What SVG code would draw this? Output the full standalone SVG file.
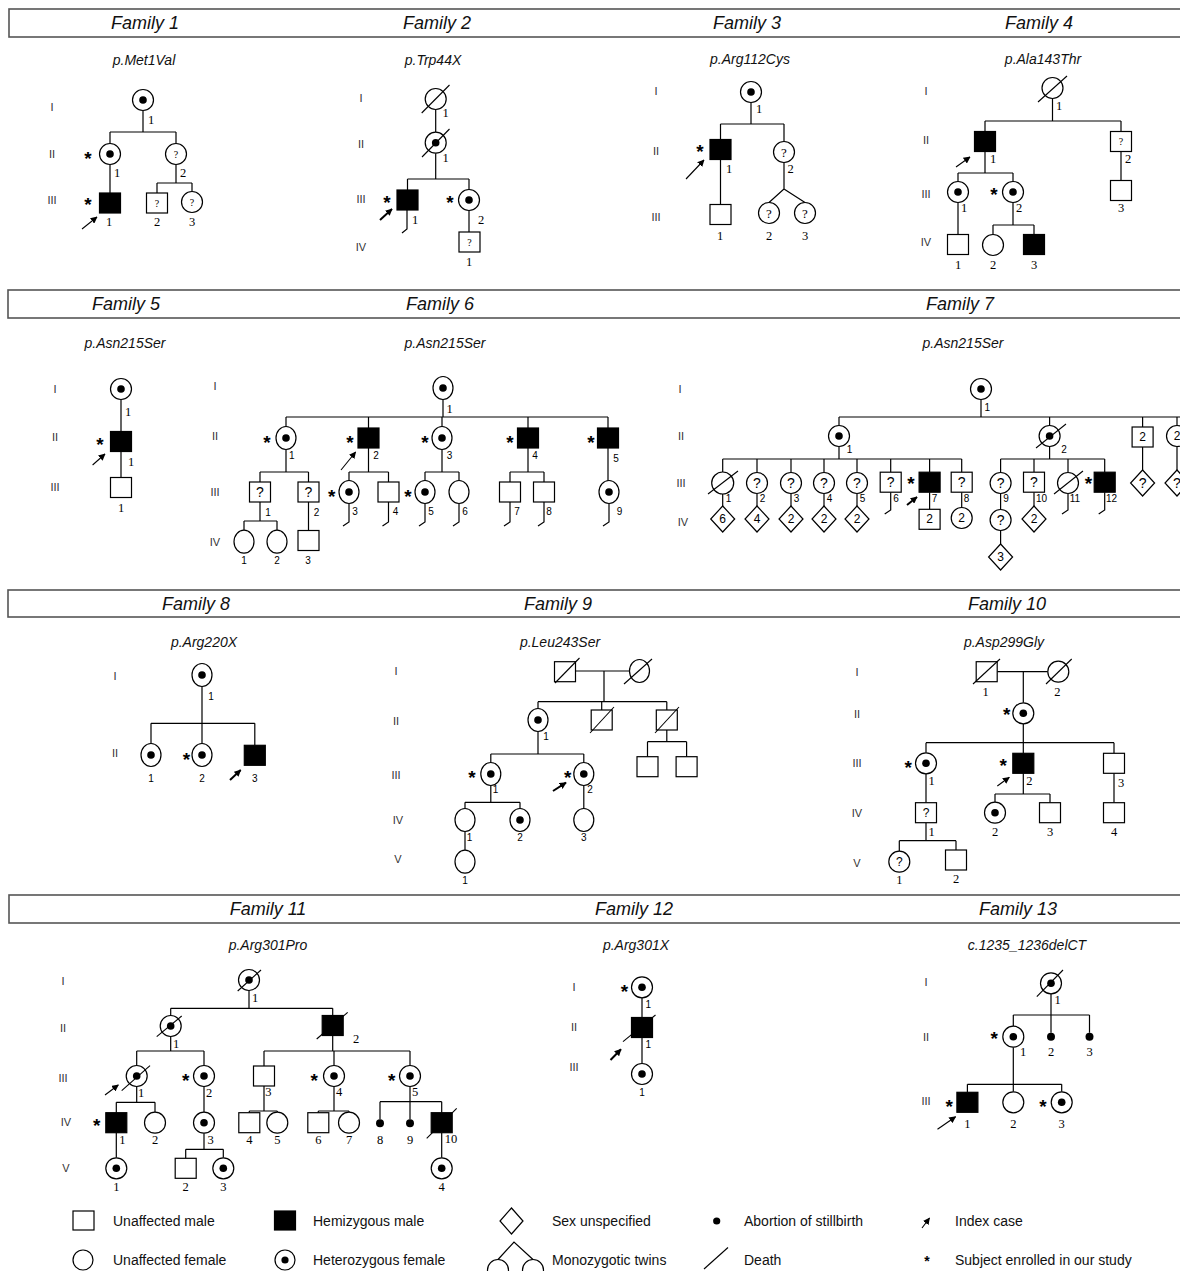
<svg xmlns="http://www.w3.org/2000/svg" width="1180" height="1271" viewBox="0 0 1180 1271">
<style>
.hb{fill:#fff;stroke:#555;stroke-width:1.6}
.tt{font-family:"Liberation Sans",Arial,sans-serif;font-style:italic;font-size:18px;text-anchor:middle;dominant-baseline:central;fill:#111}
.mu{font-family:"Liberation Sans",Arial,sans-serif;font-style:italic;font-size:14px;text-anchor:middle;dominant-baseline:central;fill:#111}
.gn{font-family:"Liberation Sans",Arial,sans-serif;font-size:11px;text-anchor:middle;dominant-baseline:central;fill:#333}
.nr{font-family:"Liberation Serif","Times New Roman",serif;font-size:12.5px;text-anchor:middle;dominant-baseline:central;fill:#000}
.ns{font-family:"Liberation Sans",Arial,sans-serif;font-size:10px;text-anchor:middle;dominant-baseline:central;fill:#000}
.q{font-family:"Liberation Serif","Times New Roman",serif;font-size:10px;text-anchor:middle;dominant-baseline:central}
.qb{font-family:"Liberation Serif","Times New Roman",serif;font-size:13px;text-anchor:middle;dominant-baseline:central}
.qs{font-family:"Liberation Sans",Arial,sans-serif;font-size:14px;text-anchor:middle;dominant-baseline:central}
.qm{font-family:"Liberation Sans",Arial,sans-serif;font-size:12px;text-anchor:middle;dominant-baseline:central}
.ast{font-family:"Liberation Sans",Arial,sans-serif;font-weight:bold;font-size:19px;text-anchor:middle}
.lg{font-family:"Liberation Sans",Arial,sans-serif;font-size:14px;dominant-baseline:central;fill:#111}
.s{fill:#fff;stroke:#000;stroke-width:1.2}
.f{fill:#000;stroke:#000;stroke-width:1.2}
.d{fill:#000}
.ln{fill:none;stroke:#000;stroke-width:1.2}
.dx{stroke:#000;stroke-width:1.1}
.ar{stroke:#000;stroke-width:1.1}
.ar2{stroke:#000;stroke-width:2}
</style>
<defs>
<marker id="ah" viewBox="0 0 10 10" refX="9" refY="5" markerWidth="7" markerHeight="7" markerUnits="userSpaceOnUse" orient="auto"><path d="M0,0 L10,5 L0,10 z" fill="#000"/></marker>
<circle id="fc" r="10.5" class="s"/>
<g id="het"><circle r="10.5" class="s"/><circle r="3.8" class="d"/></g>
<ellipse id="fo" rx="10" ry="11.5" class="s"/>
<g id="heto"><ellipse rx="10" ry="11.5" class="s"/><circle r="3.8" class="d"/></g>
<rect id="ms" x="-10.5" y="-10" width="21" height="20" class="s"/>
<rect id="mf" x="-10.5" y="-10" width="21" height="20" class="f"/>
<polygon id="dm" points="0,-13 12,0 0,13 -12,0" class="s"/>
<circle id="ab" r="4" class="d"/>
</defs>

<g id="headers">
<rect class="hb" x="9" y="9" width="1185" height="28"/>
<rect class="hb" x="8" y="290" width="1185" height="28"/>
<rect class="hb" x="8" y="590" width="1185" height="27"/>
<rect class="hb" x="9" y="895" width="1185" height="28"/>
<text class="tt" x="145" y="23">Family 1</text>
<text class="tt" x="437" y="23">Family 2</text>
<text class="tt" x="747" y="23">Family 3</text>
<text class="tt" x="1039" y="23">Family 4</text>
<text class="tt" x="126" y="304">Family 5</text>
<text class="tt" x="440" y="304">Family 6</text>
<text class="tt" x="960" y="304">Family 7</text>
<text class="tt" x="196" y="604">Family 8</text>
<text class="tt" x="558" y="604">Family 9</text>
<text class="tt" x="1007" y="604">Family 10</text>
<text class="tt" x="268" y="909">Family 11</text>
<text class="tt" x="634" y="909">Family 12</text>
<text class="tt" x="1018" y="909">Family 13</text>
<text class="mu" x="144" y="60">p.Met1Val</text>
<text class="mu" x="433" y="60">p.Trp44X</text>
<text class="mu" x="750" y="59">p.Arg112Cys</text>
<text class="mu" x="1043" y="59">p.Ala143Thr</text>
<text class="mu" x="125" y="343">p.Asn215Ser</text>
<text class="mu" x="445" y="343">p.Asn215Ser</text>
<text class="mu" x="963" y="343">p.Asn215Ser</text>
<text class="mu" x="204" y="642">p.Arg220X</text>
<text class="mu" x="560" y="642">p.Leu243Ser</text>
<text class="mu" x="1004" y="642">p.Asp299Gly</text>
<text class="mu" x="268" y="945">p.Arg301Pro</text>
<text class="mu" x="636" y="945">p.Arg301X</text>
<text class="mu" x="1027" y="945">c.1235_1236delCT</text>
</g>

<g id="generations">
<text class="gn" x="52" y="107">I</text><text class="gn" x="52" y="154">II</text><text class="gn" x="52" y="200">III</text>
<text class="gn" x="361" y="98">I</text><text class="gn" x="361" y="144">II</text><text class="gn" x="361" y="199">III</text><text class="gn" x="361" y="247">IV</text>
<text class="gn" x="656" y="91">I</text><text class="gn" x="656" y="151">II</text><text class="gn" x="656" y="217">III</text>
<text class="gn" x="926" y="91">I</text><text class="gn" x="926" y="140">II</text><text class="gn" x="926" y="194">III</text><text class="gn" x="926" y="242">IV</text>
<text class="gn" x="55" y="389">I</text><text class="gn" x="55" y="437">II</text><text class="gn" x="55" y="487">III</text>
<text class="gn" x="215" y="386">I</text><text class="gn" x="215" y="436">II</text><text class="gn" x="215" y="492">III</text><text class="gn" x="215" y="542">IV</text>
<text class="gn" x="680" y="389">I</text><text class="gn" x="681" y="436">II</text><text class="gn" x="681" y="483">III</text><text class="gn" x="683" y="522">IV</text>
<text class="gn" x="115" y="676">I</text><text class="gn" x="115" y="753">II</text>
<text class="gn" x="396" y="671">I</text><text class="gn" x="396" y="721">II</text><text class="gn" x="396" y="775">III</text><text class="gn" x="398" y="820">IV</text><text class="gn" x="398" y="859">V</text>
<text class="gn" x="857" y="672">I</text><text class="gn" x="857" y="714">II</text><text class="gn" x="857" y="763">III</text><text class="gn" x="857" y="813">IV</text><text class="gn" x="857" y="863">V</text>
<text class="gn" x="63" y="981">I</text><text class="gn" x="63" y="1028">II</text><text class="gn" x="63" y="1078">III</text><text class="gn" x="66" y="1122">IV</text><text class="gn" x="66" y="1168">V</text>
<text class="gn" x="574" y="987">I</text><text class="gn" x="574" y="1027">II</text><text class="gn" x="574" y="1067">III</text>
<text class="gn" x="926" y="982">I</text><text class="gn" x="926" y="1037">II</text><text class="gn" x="926" y="1101">III</text>
</g>

<g id="connectors">
<path class="ln" d="M143,111 V132 M110,132 H176 M110,132 V143.5 M176,132 V143.5 M110,164.5 V193 M176,164.5 V183 M157,183 H192 M157,183 V193 M192,183 V191.5"/>
<path class="ln" d="M435.7,110 V132 M435.7,153.2 V179 M407.5,179 H469 M407.5,179 V190 M469,179 V189.5 M469,210.5 V232 M407,210 V229 L402,233"/>
<path class="ln" d="M751,102.5 V124 M720.5,124 H784 M720.5,124 V139.5 M784,124 V141.5 M720.5,159.5 V204.5 M784,162.5 V189 L769,202.5 M784,189 L805,202.5"/>
<path class="ln" d="M1052.5,98.5 V121 M985,121 H1121 M985,121 V131.5 M1121,121 V131.5 M1121,151.5 V180.5 M985,151.5 V173 M958,173 H1013 M958,173 V181.5 M1013,173 V181.5 M958,202.5 V234.5 M1013,202.5 V225 M993,225 H1034 M993,225 V234.5 M1034,225 V234.5"/>
<path class="ln" d="M121,399.5 V431.5 M121,451.5 V477.5"/>
<path class="ln" d="M443,398.5 V417 M286,417 H608 M286,417 V427.5 M368.5,417 V428 M442,417 V427.5 M528,417 V428 M608,417 V428 M286,448.5 V472 M260,472 H308.5 M260,472 V482 M308.5,472 V482 M260,502 V521 M244,521 H277 M244,521 V530.2 M277,521 V530.2 M308.5,502 V530.5 M368.5,448 V472 M349,472 H388.5 M349,472 V481.5 M388.5,472 V482 M442,448.5 V472 M425,472 H459 M425,472 V481.5 M459,472 V480.5 M528,448 V472 M510,472 H544 M510,472 V482 M544,472 V482 M608,448 V481.5"/>
<path class="ln" d="M349,502.5 V522 L343,526 M388.5,502 V522 L382.5,526 M425,502.5 V522 L419,526 M459,503.5 V522 L453,526 M510,502 V522 L504,526 M544,502 V522 L538,526 M609,502.5 V522 L603,526"/>
<path class="ln" d="M981,399.5 V417 M839,417 H1182 M839,417 V425.5 M1049.6,417 V425.5 M1142.6,417 V427 M1177,417 V425.5 M839,446.5 V459 M722.7,459 H961.7 M722.7,459 V472 M757,459 V472.5 M791,459 V472.5 M824,459 V472.5 M857,459 V472.5 M890.7,459 V472.2 M929.6,459 V472.2 M961.7,459 V472.2 M722.7,494 V506 M757,493.5 V506 M791,493.5 V506 M824,493.5 V506 M857,493.5 V506 M890.7,492.2 V510 L884.7,514 M929.6,492.2 V509.3 M961.7,492.2 V507.5 M1049.6,446.5 V459 M1000.6,459 H1104.7 M1000.6,459 V472.5 M1034,459 V472.2 M1068,459 V472 M1104.7,459 V472.2 M1000.6,493.5 V509.5 M1000.6,530.5 V544 M1034,492.2 V506 M1068,494 V510 L1062,514 M1104.7,492.2 V510 L1098.7,514 M1142.6,447 V470 M1177,446.5 V470"/>
<path class="ln" d="M202,686.5 V743.5 M151,723.3 H254.8 M151,723.3 V743.5 M254.8,723.3 V745.3"/>
<path class="ln" d="M575.5,671 H629.5 M604,671 V701.7 M538,701.7 H666.8 M538,701.7 V708.5 M601.7,701.7 V710 M666.8,701.7 V710 M666.8,730 V741.7 M647.5,741.7 H686.6 M647.5,741.7 V756.7 M686.6,741.7 V756.7 M538,731.5 V754 M490.8,754 H583.8 M490.8,754 V762.5 M583.8,754 V762.5 M490.8,785.5 V802.3 M465,802.3 H520 M465,802.3 V808.5 M520,802.3 V808.5 M465,831.5 V850.2 M583.8,785.5 V808.5"/>
<path class="ln" d="M997.3,671.7 H1047.8 M1023.3,671.7 V702.8 M1023.3,723.8 V753.3 M926,742.7 H1114 M926,742.7 V752.8 M1114,742.7 V753.3 M926,773.8 V802.7 M926,822.7 V840.7 M899.3,840.7 H956 M899.3,840.7 V851.2 M956,840.7 V850 M1023.3,773.3 V794 M995,794 H1050 M995,794 V802.2 M1050,794 V802.7 M1114,773.3 V802.7"/>
<path class="ln" d="M249,990.5 V1008.3 M170.7,1008.3 H332.7 M170.7,1008.3 V1015.5 M332.7,1008.3 V1015.5 M170.7,1036.5 V1051 M136.7,1051 H204 M136.7,1051 V1065.5 M204,1051 V1065.5 M332.7,1035.5 V1051 M264,1051 H410 M264,1051 V1066 M334,1051 V1065.5 M410,1051 V1065.5 M136.7,1086.5 V1102.3 M116.3,1102.3 H155 M116.3,1102.3 V1112.7 M155,1102.3 V1112.2 M204,1086.5 V1112.2 M204,1133.2 V1149.3 M185.7,1149.3 H223.3 M185.7,1149.3 V1158.3 M223.3,1149.3 V1157.8 M264,1086 V1111 M249.3,1111 H277.3 M249.3,1111 V1112.7 M277.3,1111 V1112.2 M334,1086.5 V1111 M318.3,1111 H349 M318.3,1111 V1112.7 M349,1111 V1112.2 M410,1086.5 V1101.7 M380,1101.7 H441.7 M380,1101.7 V1119.3 M410,1101.7 V1119.3 M441.7,1101.7 V1112.7 M116.3,1132.7 V1157.8 M441.7,1132.7 V1157.8"/>
<path class="ln" d="M642,997.8 V1017.5 M642,1037.5 V1063.5"/>
<path class="ln" d="M1051,993.8 V1032.7 M1013.3,1015 H1089.5 M1013.3,1015 V1026.2 M1089.5,1015 V1032.7 M1013.3,1047.2 V1091.8 M967.4,1084.3 H1061.7 M967.4,1084.3 V1092.3 M1061.7,1084.3 V1091.8"/>
</g>

<g id="family-1">
<g id="f1-I-1"><use href="#het" x="143" y="100"/><text class="nr" x="151" y="120">1</text></g>
<g id="f1-II-1"><use href="#het" x="110" y="154"/><text class="ast" x="88" y="165">*</text><text class="nr" x="117" y="173">1</text></g>
<g id="f1-II-2"><use href="#fc" x="176" y="154"/><text class="q" x="176" y="154">?</text><text class="nr" x="183" y="173">2</text></g>
<g id="f1-III-1"><use href="#mf" x="110" y="203"/><text class="ast" x="88" y="211">*</text><text class="nr" x="109" y="222">1</text><line class="ar" x1="82" y1="229" x2="97" y2="217" marker-end="url(#ah)"/></g>
<g id="f1-III-2"><use href="#ms" x="157" y="203"/><text class="q" x="157" y="203">?</text><text class="nr" x="157" y="222">2</text></g>
<g id="f1-III-3"><use href="#fc" x="192" y="202"/><text class="q" x="192" y="202">?</text><text class="nr" x="192" y="222">3</text></g>
</g>

<g id="family-2">
<g id="f2-I-1"><use href="#fc" x="435.7" y="99"/><line class="dx" x1="421.7" y1="113" x2="449.5" y2="85"/><text class="nr" x="445.7" y="113">1</text></g>
<g id="f2-II-1"><use href="#het" x="435.7" y="142.7"/><line class="dx" x1="422" y1="157" x2="449.5" y2="129"/><text class="nr" x="445.7" y="158">1</text></g>
<g id="f2-III-1"><use href="#mf" x="407.5" y="200"/><text class="ast" x="387" y="209">*</text><text class="nr" x="415" y="220">1</text><line class="ar2" x1="380" y1="220" x2="392" y2="209" marker-end="url(#ah)"/></g>
<g id="f2-III-2"><use href="#het" x="469" y="200"/><text class="ast" x="450" y="209">*</text><text class="nr" x="481" y="220">2</text></g>
<g id="f2-IV-1"><use href="#ms" x="469.5" y="242"/><text class="q" x="469.5" y="242">?</text><text class="nr" x="469" y="262">1</text></g>
</g>

<g id="family-3">
<g id="f3-I-1"><use href="#het" x="751" y="92"/><text class="nr" x="759" y="109">1</text></g>
<g id="f3-II-1"><use href="#mf" x="720.5" y="149.5"/><text class="ast" x="700" y="158">*</text><text class="nr" x="729" y="169">1</text><line class="ar" x1="686" y1="179" x2="704" y2="160" marker-end="url(#ah)"/></g>
<g id="f3-II-2"><use href="#fc" x="784" y="152"/><text class="qb" x="784" y="152">?</text><text class="nr" x="790.5" y="169">2</text></g>
<g id="f3-III-1"><use href="#ms" x="720.5" y="214.5"/><text class="nr" x="720" y="236">1</text></g>
<g id="f3-III-2"><use href="#fc" x="769" y="213"/><text class="qb" x="769" y="213">?</text><text class="nr" x="769" y="236">2</text></g>
<g id="f3-III-3"><use href="#fc" x="805" y="213"/><text class="qb" x="805" y="213">?</text><text class="nr" x="805" y="236">3</text></g>
</g>

<g id="family-4">
<g id="f4-I-1"><use href="#fc" x="1052.5" y="88"/><line class="dx" x1="1038" y1="102" x2="1067" y2="76"/><text class="nr" x="1059" y="106">1</text></g>
<g id="f4-II-1"><use href="#mf" x="985" y="141.5"/><text class="nr" x="993" y="159">1</text><line class="ar" x1="956" y1="167" x2="970" y2="157" marker-end="url(#ah)"/></g>
<g id="f4-II-2"><use href="#ms" x="1121" y="141.5"/><text class="q" x="1121" y="141.5">?</text><text class="nr" x="1128" y="159">2</text></g>
<g id="f4-III-1"><use href="#het" x="958" y="192"/><text class="nr" x="964" y="208">1</text></g>
<g id="f4-III-2"><use href="#het" x="1013" y="192"/><text class="ast" x="994" y="201">*</text><text class="nr" x="1019" y="208">2</text></g>
<g id="f4-III-3"><use href="#ms" x="1121" y="190.5"/><text class="nr" x="1121" y="208">3</text></g>
<g id="f4-IV-1"><use href="#ms" x="958" y="244.5"/><text class="nr" x="958" y="265">1</text></g>
<g id="f4-IV-2"><use href="#fc" x="993" y="245"/><text class="nr" x="993" y="265">2</text></g>
<g id="f4-IV-3"><use href="#mf" x="1034" y="244.5"/><text class="nr" x="1034" y="265">3</text></g>
</g>

<g id="family-5">
<g id="f5-I-1"><use href="#het" x="121" y="389"/><text class="nr" x="128" y="412">1</text></g>
<g id="f5-II-1"><use href="#mf" x="121" y="441.5"/><text class="ast" x="100" y="451">*</text><text class="nr" x="131" y="462">1</text><line class="ar" x1="92.6" y1="465" x2="105" y2="454" marker-end="url(#ah)"/></g>
<g id="f5-III-1"><use href="#ms" x="121" y="487.5"/><text class="nr" x="121" y="508">1</text></g>
</g>

<g id="family-6">
<g id="f6-I-1"><use href="#heto" x="443" y="388"/><text class="nr" x="449.5" y="409">1</text></g>
<g id="f6-II-1"><use href="#heto" x="286" y="438"/><text class="ast" x="267" y="449">*</text><text class="ns" x="291.7" y="455">1</text></g>
<g id="f6-II-2"><use href="#mf" x="368.5" y="438"/><text class="ast" x="350" y="449">*</text><text class="ns" x="376" y="455">2</text><line class="ar" x1="341" y1="470" x2="355.6" y2="452" marker-end="url(#ah)"/></g>
<g id="f6-II-3"><use href="#heto" x="442" y="438"/><text class="ast" x="425" y="449">*</text><text class="ns" x="449.5" y="455">3</text></g>
<g id="f6-II-4"><use href="#mf" x="528" y="438"/><text class="ast" x="510" y="449">*</text><text class="ns" x="535" y="455">4</text></g>
<g id="f6-II-5"><use href="#mf" x="608" y="438"/><text class="ast" x="591" y="449">*</text><text class="ns" x="616" y="458">5</text></g>
<g id="f6-III-1"><use href="#ms" x="260" y="492"/><text class="qs" x="260" y="492">?</text><text class="ns" x="268" y="512">1</text></g>
<g id="f6-III-2"><use href="#ms" x="308.5" y="492"/><text class="qs" x="308.5" y="492">?</text><text class="ns" x="316.5" y="512">2</text></g>
<g id="f6-III-3"><use href="#heto" x="349" y="492"/><text class="ast" x="331.6" y="503">*</text><text class="ns" x="355" y="511">3</text></g>
<g id="f6-III-4"><use href="#ms" x="388.5" y="492"/><text class="ns" x="395.6" y="511">4</text></g>
<g id="f6-III-5"><use href="#heto" x="425" y="492"/><text class="ast" x="408" y="503">*</text><text class="ns" x="431" y="511">5</text></g>
<g id="f6-III-6"><use href="#fo" x="459" y="492"/><text class="ns" x="465" y="511">6</text></g>
<g id="f6-III-7"><use href="#ms" x="510" y="492"/><text class="ns" x="517" y="511">7</text></g>
<g id="f6-III-8"><use href="#ms" x="544" y="492"/><text class="ns" x="549" y="511">8</text></g>
<g id="f6-III-9"><use href="#heto" x="609" y="492"/><text class="ns" x="619.5" y="511">9</text></g>
<g id="f6-IV-1"><use href="#fo" x="244" y="541.7"/><text class="ns" x="244" y="560">1</text></g>
<g id="f6-IV-2"><use href="#fo" x="277" y="541.7"/><text class="ns" x="277" y="560">2</text></g>
<g id="f6-IV-3"><use href="#ms" x="308.5" y="540.5"/><text class="ns" x="308" y="560">3</text></g>
</g>

<g id="family-7">
<g id="f7-I-1"><use href="#het" x="981" y="389"/><text class="ns" x="987.4" y="407">1</text></g>
<g id="f7-II-1"><use href="#het" x="839" y="436"/><text class="ns" x="849.5" y="449">1</text></g>
<g id="f7-II-2"><use href="#het" x="1049.6" y="436"/><line class="dx" x1="1036" y1="448" x2="1066" y2="424"/><text class="ns" x="1064" y="449">2</text></g>
<g id="f7-II-3"><use href="#ms" x="1142.6" y="437"/><text class="qm" x="1142.6" y="437">2</text></g>
<g id="f7-II-4"><use href="#fc" x="1177" y="436"/><text class="qm" x="1177" y="436">2</text></g>
<g id="f7-III-1"><circle cx="722.7" cy="483" r="11" class="s"/><line class="dx" x1="708" y1="494" x2="738" y2="471"/><text class="ns" x="728.5" y="498">1</text></g>
<g id="f7-III-2"><use href="#fc" x="757" y="483"/><text class="qs" x="757" y="483">?</text><text class="ns" x="762.5" y="498">2</text></g>
<g id="f7-III-3"><use href="#fc" x="791" y="483"/><text class="qs" x="791" y="483">?</text><text class="ns" x="796.5" y="498">3</text></g>
<g id="f7-III-4"><use href="#fc" x="824" y="483"/><text class="qs" x="824" y="483">?</text><text class="ns" x="829.5" y="498">4</text></g>
<g id="f7-III-5"><use href="#fc" x="857" y="483"/><text class="qs" x="857" y="483">?</text><text class="ns" x="862.5" y="498">5</text></g>
<g id="f7-III-6"><use href="#ms" x="890.7" y="482.2"/><text class="qs" x="890.7" y="482.2">?</text><text class="ns" x="896" y="498">6</text></g>
<g id="f7-III-7"><use href="#mf" x="929.6" y="482.2"/><text class="ast" x="911" y="490">*</text><text class="ns" x="934.5" y="498">7</text><line class="ar2" x1="907" y1="505" x2="917" y2="497" marker-end="url(#ah)"/></g>
<g id="f7-III-8"><use href="#ms" x="961.7" y="482.2"/><text class="qs" x="961.7" y="482.2">?</text><text class="ns" x="966.5" y="498">8</text></g>
<g id="f7-III-9"><use href="#fc" x="1000.6" y="483"/><text class="qs" x="1000.6" y="483">?</text><text class="ns" x="1006" y="498">9</text></g>
<g id="f7-III-10"><use href="#ms" x="1034" y="482.2"/><text class="qs" x="1034" y="482.2">?</text><text class="ns" x="1041.5" y="498">10</text></g>
<g id="f7-III-11"><use href="#fc" x="1068" y="483"/><line class="dx" x1="1054" y1="494" x2="1083" y2="471"/><text class="ns" x="1075" y="498">11</text></g>
<g id="f7-III-12"><use href="#mf" x="1104.7" y="482.2"/><text class="ast" x="1088.5" y="490">*</text><text class="ns" x="1111.5" y="498">12</text></g>
<g id="f7-III-13"><use href="#dm" x="1142.6" y="483"/><text class="qs" x="1142.6" y="483">?</text></g>
<g id="f7-III-14"><use href="#dm" x="1177" y="483"/><text class="qs" x="1177" y="483">?</text></g>
<g id="f7-IV-1"><use href="#dm" x="722.7" y="519"/><text class="qm" x="722.7" y="519">6</text></g>
<g id="f7-IV-2"><use href="#dm" x="757" y="519"/><text class="qm" x="757" y="519">4</text></g>
<g id="f7-IV-3"><use href="#dm" x="791" y="519"/><text class="qm" x="791" y="519">2</text></g>
<g id="f7-IV-4"><use href="#dm" x="824" y="519"/><text class="qm" x="824" y="519">2</text></g>
<g id="f7-IV-5"><use href="#dm" x="857" y="519"/><text class="qm" x="857" y="519">2</text></g>
<g id="f7-IV-6"><use href="#ms" x="929.6" y="519.3"/><text class="qm" x="929.6" y="519.3">2</text></g>
<g id="f7-IV-7"><use href="#fc" x="961.7" y="518"/><text class="qm" x="961.7" y="518">2</text></g>
<g id="f7-IV-8"><use href="#fc" x="1000.6" y="520"/><text class="qs" x="1000.6" y="520">?</text></g>
<g id="f7-IV-9"><use href="#dm" x="1034" y="519"/><text class="qm" x="1034" y="519">2</text></g>
<g id="f7-V-1"><use href="#dm" x="1000.6" y="557"/><text class="qm" x="1000.6" y="557">3</text></g>
</g>

<g id="family-8">
<g id="f8-I-1"><use href="#heto" x="202" y="675"/><text class="ns" x="211" y="696">1</text></g>
<g id="f8-II-1"><use href="#heto" x="151" y="755"/><text class="ns" x="151" y="778">1</text></g>
<g id="f8-II-2"><use href="#heto" x="202" y="755"/><text class="ast" x="186.4" y="766">*</text><text class="ns" x="202" y="778">2</text></g>
<g id="f8-II-3"><use href="#mf" x="254.8" y="755.3"/><text class="ns" x="254.8" y="778">3</text><line class="ar2" x1="230" y1="780" x2="240.7" y2="770" marker-end="url(#ah)"/></g>
</g>

<g id="family-9">
<g id="f9-I-1"><use href="#ms" x="565" y="671.7"/><line class="dx" x1="555" y1="683" x2="579.5" y2="658"/></g>
<g id="f9-I-2"><use href="#fo" x="639.5" y="671"/><line class="dx" x1="624" y1="684" x2="652" y2="659"/></g>
<g id="f9-II-1"><use href="#heto" x="538" y="720"/><text class="ns" x="546" y="736">1</text></g>
<g id="f9-II-2"><use href="#ms" x="601.7" y="720"/><line class="dx" x1="590" y1="733" x2="614" y2="707"/></g>
<g id="f9-II-3"><use href="#ms" x="666.8" y="720"/><line class="dx" x1="655" y1="733" x2="679" y2="707"/></g>
<g id="f9-III-1"><use href="#heto" x="490.8" y="774"/><text class="ast" x="472" y="784">*</text><text class="ns" x="495.5" y="789">1</text></g>
<g id="f9-III-2"><use href="#heto" x="583.8" y="774"/><text class="ast" x="567.7" y="784">*</text><text class="ns" x="590" y="789">2</text><line class="ar2" x1="553" y1="791" x2="566" y2="782.7" marker-end="url(#ah)"/></g>
<g id="f9-III-3"><use href="#ms" x="647.5" y="766.7"/></g>
<g id="f9-III-4"><use href="#ms" x="686.6" y="766.7"/></g>
<g id="f9-IV-1"><use href="#fo" x="465" y="820"/><text class="ns" x="469.6" y="837">1</text></g>
<g id="f9-IV-2"><use href="#heto" x="520" y="820"/><text class="ns" x="520" y="837">2</text></g>
<g id="f9-IV-3"><use href="#fo" x="583.8" y="820"/><text class="ns" x="583.8" y="837">3</text></g>
<g id="f9-V-1"><use href="#fo" x="465" y="861.7"/><text class="ns" x="465" y="880">1</text></g>
</g>

<g id="family-10">
<g id="f10-I-1"><use href="#ms" x="986.7" y="671.7"/><line class="dx" x1="973" y1="684" x2="1000" y2="659"/><text class="nr" x="985.7" y="692">1</text></g>
<g id="f10-I-2"><use href="#fc" x="1058.3" y="671.7"/><line class="dx" x1="1046" y1="684" x2="1071.7" y2="659"/><text class="nr" x="1057.3" y="692">2</text></g>
<g id="f10-II-1"><use href="#het" x="1023.3" y="713.3"/><text class="ast" x="1006.7" y="721">*</text></g>
<g id="f10-III-1"><use href="#het" x="926" y="763.3"/><text class="ast" x="908.3" y="774">*</text><text class="nr" x="931.7" y="781">1</text></g>
<g id="f10-III-2"><use href="#mf" x="1023.3" y="763.3"/><text class="ast" x="1003.3" y="772">*</text><text class="nr" x="1029.3" y="781">2</text><line class="ar" x1="997.3" y1="786" x2="1009.3" y2="777.3" marker-end="url(#ah)"/></g>
<g id="f10-III-3"><use href="#ms" x="1114" y="763.3"/><text class="nr" x="1121" y="783">3</text></g>
<g id="f10-IV-1"><use href="#ms" x="926" y="812.7"/><text class="qm" x="926" y="812.7">?</text><text class="nr" x="931.7" y="832">1</text></g>
<g id="f10-IV-2"><use href="#het" x="995" y="812.7"/><text class="nr" x="995" y="832">2</text></g>
<g id="f10-IV-3"><use href="#ms" x="1050" y="812.7"/><text class="nr" x="1050" y="832">3</text></g>
<g id="f10-IV-4"><use href="#ms" x="1114" y="812.7"/><text class="nr" x="1114" y="832">4</text></g>
<g id="f10-V-1"><use href="#fc" x="899.3" y="861.7"/><text class="qm" x="899.3" y="861.7">?</text><text class="nr" x="899.3" y="880">1</text></g>
<g id="f10-V-2"><use href="#ms" x="956" y="860"/><text class="nr" x="956" y="878.5">2</text></g>
</g>

<g id="family-11">
<g id="f11-I-1"><use href="#het" x="249" y="980"/><line class="dx" x1="237.7" y1="991" x2="261" y2="970"/><text class="nr" x="255" y="998">1</text></g>
<g id="f11-II-1"><use href="#het" x="170.7" y="1026"/><line class="dx" x1="156.7" y1="1036.7" x2="181.7" y2="1016"/><text class="nr" x="176" y="1044">1</text></g>
<g id="f11-II-2"><use href="#mf" x="332.7" y="1025.5"/><line class="dx" x1="316.7" y1="1039" x2="347.7" y2="1012.3"/><text class="nr" x="356" y="1039">2</text></g>
<g id="f11-III-1"><use href="#het" x="136.7" y="1076"/><line class="dx" x1="121.7" y1="1090.7" x2="150" y2="1065.7"/><text class="nr" x="141" y="1093">1</text><line class="ar" x1="105" y1="1095" x2="118.3" y2="1085" marker-end="url(#ah)"/></g>
<g id="f11-III-2"><use href="#het" x="204" y="1076"/><text class="ast" x="185.7" y="1087">*</text><text class="nr" x="209" y="1093">2</text></g>
<g id="f11-III-3"><use href="#ms" x="264" y="1076"/><text class="nr" x="268.3" y="1092">3</text></g>
<g id="f11-III-4"><use href="#het" x="334" y="1076"/><text class="ast" x="314.3" y="1087">*</text><text class="nr" x="339" y="1092">4</text></g>
<g id="f11-III-5"><use href="#het" x="410" y="1076"/><text class="ast" x="391.7" y="1087">*</text><text class="nr" x="415" y="1092">5</text></g>
<g id="f11-IV-1"><use href="#mf" x="116.3" y="1122.7"/><text class="ast" x="96.7" y="1132">*</text><text class="nr" x="122.3" y="1139.5">1</text></g>
<g id="f11-IV-2"><use href="#fc" x="155" y="1122.7"/><text class="nr" x="155" y="1140">2</text></g>
<g id="f11-IV-3"><use href="#het" x="204" y="1122.7"/><text class="nr" x="210.7" y="1140">3</text></g>
<g id="f11-IV-4"><use href="#ms" x="249.3" y="1122.7"/><text class="nr" x="249.3" y="1140">4</text></g>
<g id="f11-IV-5"><use href="#fc" x="277.3" y="1122.7"/><text class="nr" x="277.3" y="1140">5</text></g>
<g id="f11-IV-6"><use href="#ms" x="318.3" y="1122.7"/><text class="nr" x="318.3" y="1140">6</text></g>
<g id="f11-IV-7"><use href="#fc" x="349" y="1122.7"/><text class="nr" x="349" y="1140">7</text></g>
<g id="f11-IV-8"><use href="#ab" x="380" y="1123.3"/><text class="nr" x="380" y="1140">8</text></g>
<g id="f11-IV-9"><use href="#ab" x="410" y="1123.3"/><text class="nr" x="410" y="1140">9</text></g>
<g id="f11-IV-10"><use href="#mf" x="441.7" y="1122.7"/><line class="dx" x1="426.7" y1="1138.3" x2="456.7" y2="1108.3"/><text class="nr" x="451" y="1138.5">10</text></g>
<g id="f11-V-1"><use href="#het" x="116.3" y="1168.3"/><text class="nr" x="116.3" y="1187">1</text></g>
<g id="f11-V-2"><use href="#ms" x="185.7" y="1168.3"/><text class="nr" x="185.7" y="1187">2</text></g>
<g id="f11-V-3"><use href="#het" x="223.3" y="1168.3"/><text class="nr" x="223.3" y="1187">3</text></g>
<g id="f11-V-4"><use href="#het" x="441.7" y="1168.3"/><text class="nr" x="441.7" y="1187">4</text></g>
</g>

<g id="family-12">
<g id="f12-I-1"><use href="#het" x="642" y="987.3"/><text class="ast" x="624.4" y="998">*</text><text class="ns" x="648.4" y="1004">1</text></g>
<g id="f12-II-1"><use href="#mf" x="642" y="1027.5"/><line class="dx" x1="623" y1="1041.7" x2="655.5" y2="1015"/><text class="ns" x="648.4" y="1044">1</text><line class="ar2" x1="610.5" y1="1060" x2="621" y2="1049.3" marker-end="url(#ah)"/></g>
<g id="f12-III-1"><use href="#het" x="642" y="1074"/><text class="ns" x="642" y="1092">1</text></g>
</g>

<g id="family-13">
<g id="f13-I-1"><use href="#het" x="1051" y="983.3"/><line class="dx" x1="1036.8" y1="996.7" x2="1063" y2="970"/><text class="nr" x="1057.5" y="1000">1</text></g>
<g id="f13-II-1"><use href="#het" x="1013.3" y="1036.7"/><text class="ast" x="994.3" y="1045">*</text><text class="nr" x="1023" y="1052">1</text></g>
<g id="f13-II-2"><use href="#ab" x="1051" y="1036.7"/><text class="nr" x="1051" y="1052">2</text></g>
<g id="f13-II-3"><use href="#ab" x="1089.5" y="1036.7"/><text class="nr" x="1089.5" y="1052">3</text></g>
<g id="f13-III-1"><use href="#mf" x="967.4" y="1102.3"/><text class="ast" x="949.3" y="1113">*</text><text class="nr" x="967.4" y="1124">1</text><line class="ar" x1="937.5" y1="1129.3" x2="955.6" y2="1116.7" marker-end="url(#ah)"/></g>
<g id="f13-III-2"><use href="#fc" x="1013.3" y="1102.3"/><text class="nr" x="1013.3" y="1124">2</text></g>
<g id="f13-III-3"><use href="#het" x="1061.7" y="1102.3"/><text class="ast" x="1043" y="1113">*</text><text class="nr" x="1061.7" y="1124">3</text></g>
</g>

<g id="legend">
<rect x="73" y="1211" width="21" height="19" class="s"/><text class="lg" x="113" y="1221">Unaffected male</text>
<rect x="274.5" y="1211" width="21" height="19" class="f"/><text class="lg" x="313" y="1221">Hemizygous male</text>
<polygon points="511.5,1208 523,1221 511.5,1234 500,1221" class="s"/><text class="lg" x="552" y="1221">Sex unspecified</text>
<circle cx="716.7" cy="1221" r="3.6" class="d"/><text class="lg" x="744" y="1221">Abortion of stillbirth</text>
<line class="ar" x1="922" y1="1228" x2="929.5" y2="1218" marker-end="url(#ah)"/><text class="lg" x="955" y="1221">Index case</text>
<circle cx="83" cy="1260" r="10" class="s"/><text class="lg" x="113" y="1260">Unaffected female</text>
<circle cx="285" cy="1260" r="10" class="s"/><circle cx="285" cy="1260" r="3.6" class="d"/><text class="lg" x="313" y="1260">Heterozygous female</text>
<path class="ln" d="M498,1259.5 L514,1242 L533,1259.5"/><circle cx="498" cy="1270" r="10.5" class="s"/><circle cx="533" cy="1270" r="10.5" class="s"/><text class="lg" x="552" y="1260">Monozygotic twins</text>
<line class="dx" x1="704" y1="1269" x2="728" y2="1247.5"/><text class="lg" x="744" y="1260">Death</text>
<text class="ast" x="927" y="1266" style="font-size:14px">*</text><text class="lg" x="955" y="1260">Subject enrolled in our study</text>
</g>
</svg>
